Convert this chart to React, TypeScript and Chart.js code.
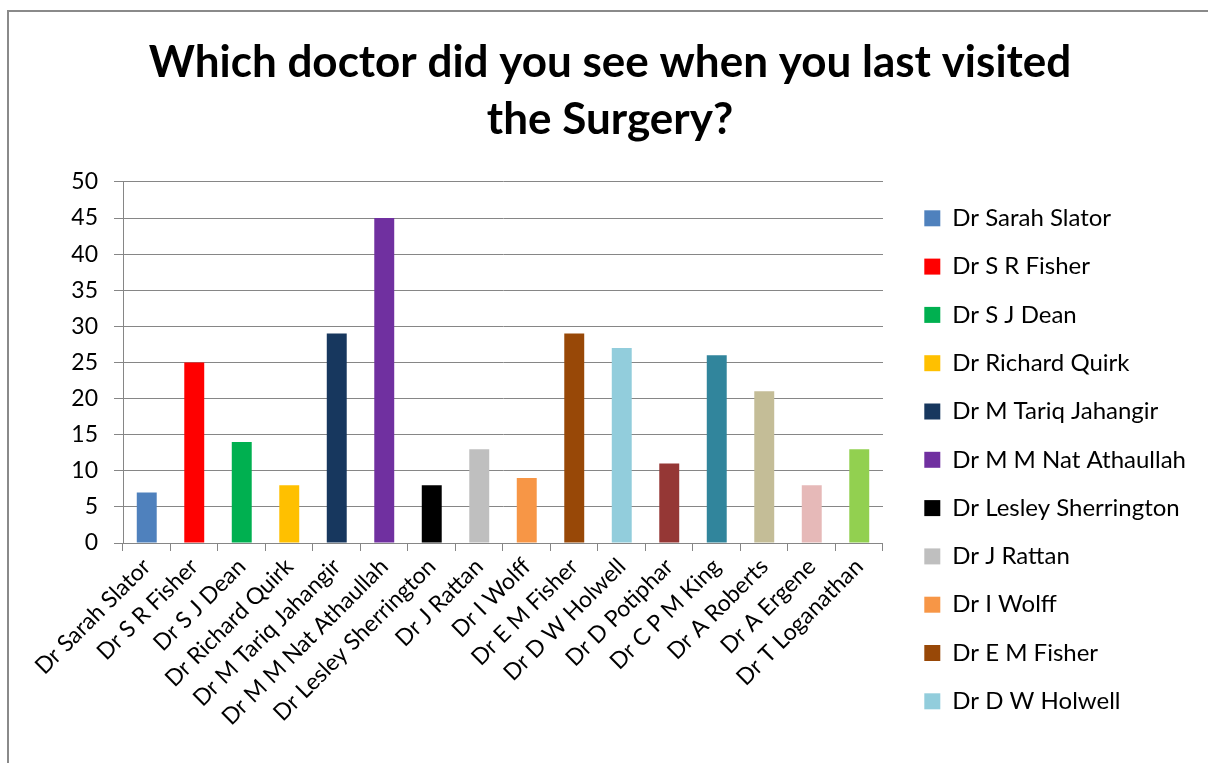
import React, { useEffect, useRef } from "react";
import { Chart, registerables } from "chart.js";

Chart.register(...registerables);

const categories = [
  "Dr Sarah Slator",
  "Dr S R Fisher",
  "Dr S J Dean",
  "Dr Richard Quirk",
  "Dr M Tariq Jahangir",
  "Dr M M Nat Athaullah",
  "Dr Lesley Sherrington",
  "Dr J Rattan",
  "Dr I Wolff",
  "Dr E M Fisher",
  "Dr D W Holwell",
  "Dr D Potiphar",
  "Dr C P M King",
  "Dr A Roberts",
  "Dr A Ergene",
  "Dr T Loganathan",
];

const visits = [7, 25, 14, 8, 29, 45, 8, 13, 9, 29, 27, 11, 26, 21, 8, 13];

const barColors = [
  "#4F81BD",
  "#FF0000",
  "#00B050",
  "#FFC000",
  "#17375E",
  "#7030A0",
  "#000000",
  "#BFBFBF",
  "#F79646",
  "#984807",
  "#92CDDC",
  "#953735",
  "#31859C",
  "#C4BD97",
  "#E6B9B8",
  "#92D050",
];

const titleLines = ["Which doctor did you see when you last visited", "the Surgery?"];
const legendVisibleCount = 11;
const yMin = 0;
const yMax = 50;
const yStep = 5;

const FONT = "Lato, 'Open Sans', sans-serif";
const GRID = "#868686";

// widens the legend box a little so its left edge sits where the original's does
const legendWiden = {
  id: "legendWiden",
  afterInit(chart: any) {
    const lg = chart.legend;
    if (!lg || lg.__widened) return;
    const orig = lg.fit.bind(lg);
    lg.fit = function () {
      orig();
      this.width += 15;
    };
    lg.__widened = true;
  },
};

export default function App() {
  const ref = useRef<HTMLCanvasElement>(null);

  useEffect(() => {
    if (!ref.current) return;
    const chart = new Chart(ref.current, {
      type: "bar",
      data: {
        labels: categories,
        datasets: [
          {
            data: visits,
            backgroundColor: barColors,
            borderWidth: 0,
            barPercentage: 0.42,
            categoryPercentage: 1,
          },
        ],
      },
      plugins: [legendWiden],
      options: {
        animation: false,
        responsive: false,
        maintainAspectRatio: false,
        layout: { padding: 0 },
        plugins: {
          title: {
            display: true,
            text: titleLines,
            color: "#000",
            font: { family: FONT, size: 44, weight: "bold", lineHeight: 1.295 },
            padding: { top: 22, bottom: 34 },
          },
          legend: {
            position: "right",
            align: "start",
            maxWidth: 400,
            title: {
              display: true,
              text: "",
              font: { family: FONT, size: 10, lineHeight: 1 },
              padding: { top: 160, bottom: 0 },
            },
            labels: {
              boxWidth: 16,
              boxHeight: 16,
              padding: 24.3,
              color: "#000",
              font: { family: FONT, size: 24 },
              generateLabels: () =>
                categories.slice(0, legendVisibleCount).map((c, i) => ({
                  text: c,
                  fillStyle: barColors[i],
                  strokeStyle: barColors[i],
                  fontColor: "#000",
                  lineWidth: 0,
                  hidden: false,
                  index: i,
                  datasetIndex: 0,
                })),
            },
          },
          tooltip: { enabled: false },
        },
        scales: {
          x: {
            grid: {
              display: true,
              drawOnChartArea: false,
              drawTicks: true,
              tickLength: 8,
              color: GRID,
              offset: true,
            },
            border: { color: GRID },
            ticks: {
              minRotation: 45,
              maxRotation: 45,
              autoSkip: false,
              color: "#000",
              padding: 2,
              font: { family: FONT, size: 23 },
            },
            afterFit: (s: any) => {
              s.height = 220;
            },
          },
          y: {
            min: yMin,
            max: yMax,
            ticks: {
              stepSize: yStep,
              padding: 16,
              color: "#000",
              font: { family: FONT, size: 23 },
            },
            grid: { color: GRID, tickLength: 9 },
            border: { color: GRID },
            afterFit: (s: any) => {
              s.width = 114;
            },
          },
          gap: {
            type: "linear",
            axis: "y",
            position: "right",
            display: true,
            grid: { display: false },
            border: { display: false },
            ticks: { display: false },
            afterFit: (s: any) => {
              s.width = 17;
            },
          },
        },
      } as any,
    });
    return () => chart.destroy();
  }, []);

  return (
    <div
      style={{
        position: "fixed",
        left: 0,
        top: 0,
        width: 1208,
        height: 763,
        overflow: "hidden",
        background: "#fff",
      }}
    >
      <div
        style={{
          position: "absolute",
          left: 7,
          top: 10,
          border: "2px solid #8a8a8a",
          lineHeight: 0,
        }}
      >
        <canvas ref={ref} width={1202} height={751} style={{ display: "block" }} />
      </div>
    </div>
  );
}
